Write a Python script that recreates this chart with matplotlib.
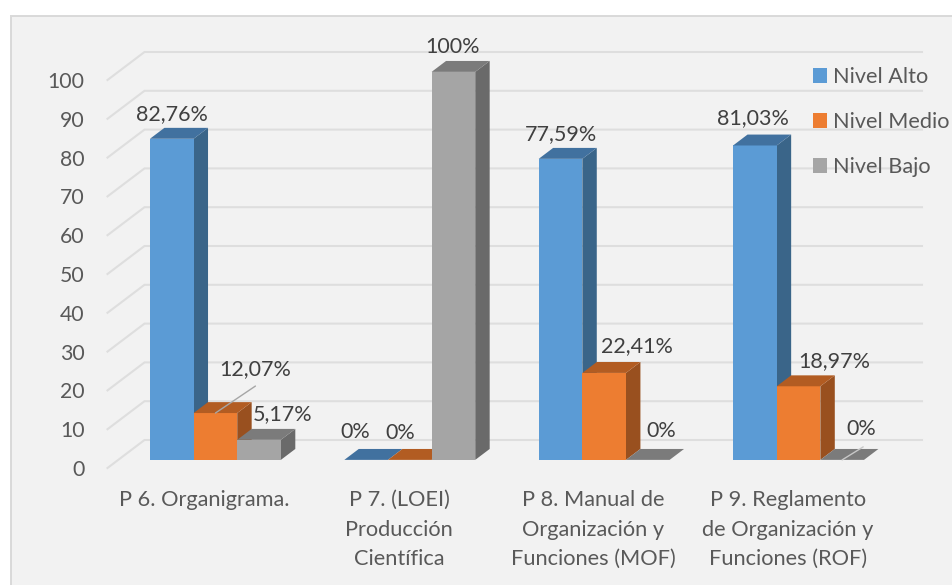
import matplotlib
matplotlib.use("Agg")
import matplotlib.pyplot as plt
from matplotlib.patches import Polygon, Rectangle, Patch

W, H = 953, 585

categories = ["P 6. Organigrama.",
              "P 7. (LOEI)\nProducción\nCientífica",
              "P 8. Manual de\nOrganización y\nFunciones (MOF)",
              "P 9. Reglamento\nde Organización y\nFunciones (ROF)"]
series_names = ["Nivel Alto", "Nivel Medio", "Nivel Bajo"]
nivel_alto = [82.76, 0, 77.59, 81.03]
nivel_medio = [12.07, 0, 22.41, 18.97]
nivel_bajo = [5.17, 100, 0, 0]
label_alto = ["82,76%", "0%", "77,59%", "81,03%"]
label_medio = ["12,07%", "0%", "22,41%", "18,97%"]
label_bajo = ["5,17%", "100%", "0%", "0%"]
y_ticks = list(range(0, 101, 10))

# style / layout (pixel based)
front_colors = ["#5b9bd5", "#ed7d31", "#a5a5a5"]
side_colors = ["#3a6589", "#99501f", "#6a6a6a"]
top_colors = ["#41719f", "#b25c22", "#7b7b7b"]
label_offsets = [
    [(0, 25), (-11, 28), (0, 25), (-2, 27)],
    [(40, 44), (-10, 27), (33, 27), (36, 25)],
    [(24, 26), (-1, 25), (13, 29), (19, 31)],
]
AX_L, AX_R, AX_TOP, AX_BOT = 107.5, 885, 80, 468
BAR_W = 0.2245
Z_FRONT, Z_BACK = 0.29, 0.68

plt.rcParams["font.family"] = ["Lato", "DejaVu Sans"]
fig = plt.figure(figsize=(W / 100, H / 100), dpi=100, facecolor="white")
fig.add_artist(Rectangle((10.5 / W, -0.02), 1.0, 1.02 - 15.5 / H, transform=fig.transFigure,
                         facecolor="#f2f2f2", edgecolor="#d9d9d9", linewidth=1.4, zorder=-5))

ax = fig.add_axes([AX_L / W, 1 - AX_BOT / H, (AX_R - AX_L) / W, (AX_BOT - AX_TOP) / H])
ax.set_facecolor("none")
ax.set_xlim(-0.5, 3.5)
ax.set_ylim(0, 100)
for s in ax.spines.values():
    s.set_visible(False)

depth_x = 37 / ((AX_R - AX_L) / 4)
depth_y = 28 / ((AX_BOT - AX_TOP) / 100)


def project(x, v, z):
    return (x + z * depth_x, v + z * depth_y)


# value axis and back wall
ax.set_yticks(y_ticks)
ax.set_xticks(range(len(categories)))
ax.set_xticklabels(categories, fontsize=15.7, color="#595959", linespacing=1.59)
ax.tick_params(axis="y", length=0, pad=16.5, labelsize=15.3, labelcolor="#595959")
ax.tick_params(axis="x", length=0, pad=16)
for v in y_ticks:
    pts = [project(-0.5, v, 0), project(-0.5, v, 1), project(3.5, v, 1)]
    ax.plot([p[0] for p in pts], [p[1] for p in pts], color="#dedede", lw=1.5,
            clip_on=False, zorder=1, solid_joinstyle="miter")

all_values = [nivel_alto, nivel_medio, nivel_bajo]
all_labels = [label_alto, label_medio, label_bajo]

for s, (values, labels) in enumerate(zip(all_values, all_labels)):
    shift = (s - 1) * BAR_W
    for i, v in enumerate(values):
        xl = i + shift - BAR_W / 2
        xr = i + shift + BAR_W / 2
        base = Z_FRONT * depth_y
        xo = Z_FRONT * depth_x
        ax.bar(xl + xo + BAR_W / 2, v, BAR_W, bottom=base, color=front_colors[s],
               zorder=3 + s * 2, clip_on=False, linewidth=0)
        side = [project(xr, 0, Z_FRONT), project(xr, 0, Z_BACK),
                project(xr, v, Z_BACK), project(xr, v, Z_FRONT)]
        top = [project(xl, v, Z_FRONT), project(xr, v, Z_FRONT),
               project(xr, v, Z_BACK), project(xl, v, Z_BACK)]
        if v > 0:
            ax.add_patch(Polygon(side, facecolor=side_colors[s], edgecolor="none",
                                 zorder=2.5 + s * 2, clip_on=False))
        ax.add_patch(Polygon(top, facecolor=top_colors[s], edgecolor="none",
                             zorder=3.5 + s * 2, clip_on=False))
        ax.annotate(labels[i], xy=project(i + shift, v, Z_FRONT), xycoords="data",
                    xytext=label_offsets[s][i], textcoords="offset pixels",
                    ha="center", va="center", fontsize=15.5, color="#404040",
                    zorder=20, annotation_clip=False)

# leader lines of the moved data labels
ax.annotate("", xy=project(0, nivel_medio[0], Z_FRONT), xytext=(40, 27), textcoords="offset pixels",
            arrowprops=dict(arrowstyle="-", color="#a6a6a6", lw=1, shrinkA=0, shrinkB=0),
            annotation_clip=False, zorder=21)
ax.annotate("", xy=project(3 + BAR_W, nivel_bajo[3], Z_FRONT), xytext=(21, 13), textcoords="offset pixels",
            arrowprops=dict(arrowstyle="-", color="#c8c8c8", lw=1, shrinkA=0, shrinkB=0),
            annotation_clip=False, zorder=21)

fs = 15.6
handles = [Patch(facecolor=c, edgecolor="none") for c in front_colors]
leg = fig.legend(handles, series_names, loc="upper left",
                 bbox_to_anchor=(813 / W, 1 - 67 / H), bbox_transform=fig.transFigure,
                 frameon=False, fontsize=fs, labelcolor="#595959",
                 handlelength=0.646, handleheight=0.646, handletextpad=0.28,
                 labelspacing=1.16, borderpad=0, borderaxespad=0)

fig.savefig("out.png", dpi=100)
